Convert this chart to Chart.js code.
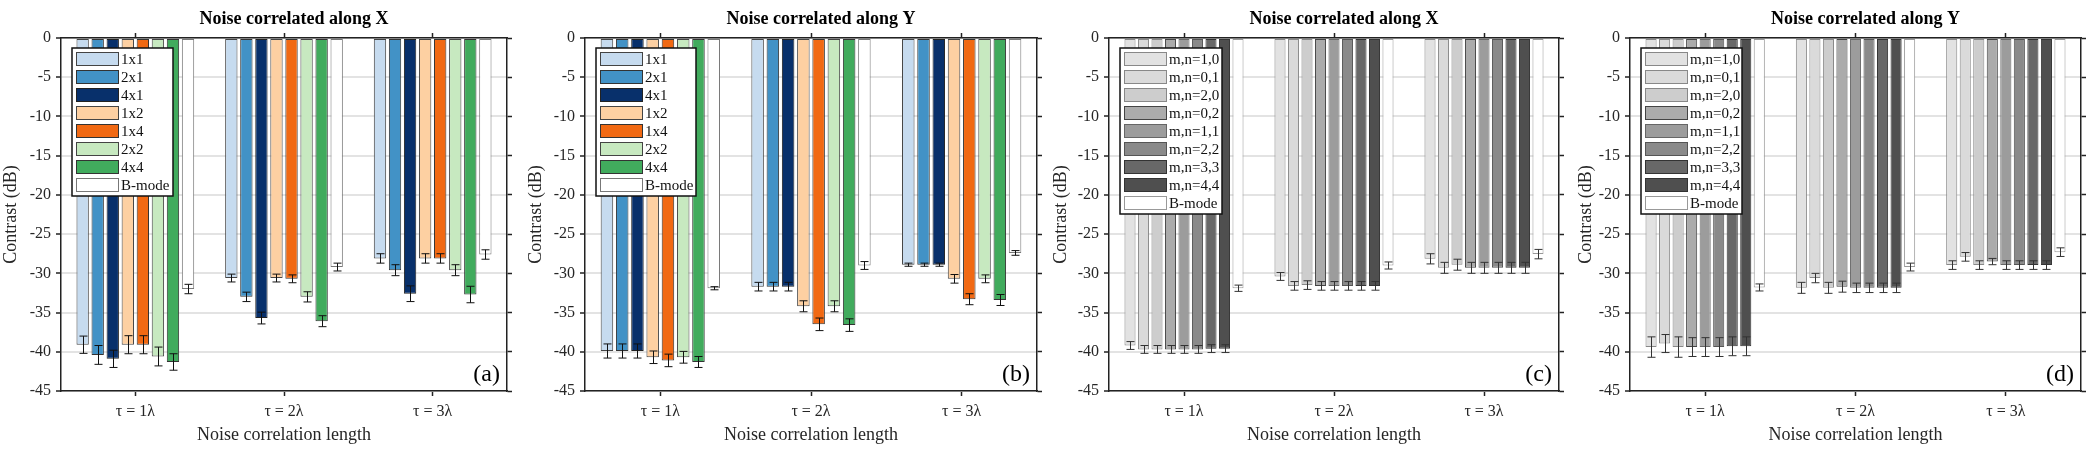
<!DOCTYPE html>
<html>
<head>
<meta charset="utf-8">
<script src="https://cdn.jsdelivr.net/npm/chart.js@4.4.0/dist/chart.umd.min.js"></script>
<style>
  body { margin: 0; background: #fff; width: 2100px; height: 452px; position: relative; overflow: hidden; font-family: "Liberation Serif", serif; }
  canvas { position: absolute; top: 0; }
  #warm { position: absolute; left: -1000px; top: 0; font-family: "Liberation Serif"; }
</style>
</head>
<body>
<span id="warm">Noise <b>correlated</b> τλ</span>
<canvas id="panelA" width="525" height="452" style="left:0px"></canvas>
<canvas id="panelB" width="525" height="452" style="left:525px"></canvas>
<canvas id="panelC" width="525" height="452" style="left:1050px"></canvas>
<canvas id="panelD" width="525" height="452" style="left:1575px"></canvas>
<script>
// categories and series names
const categories = ['τ = 1λ', 'τ = 2λ', 'τ = 3λ'];
const colourSeries = ['1x1', '2x1', '4x1', '1x2', '1x4', '2x2', '4x4', 'B-mode'];
const graySeries = ['m,n=1,0', 'm,n=0,1', 'm,n=2,0', 'm,n=0,2', 'm,n=1,1', 'm,n=2,2', 'm,n=3,3', 'm,n=4,4', 'B-mode'];
const yMin = -45, yMax = 0, yStep = 5;

// (a) noise along X - one row per series, one value per category
const meansA = [
  [-39.1, -30.6, -28.1],
  [-40.4, -33.0, -29.6],
  [-40.9, -35.7, -32.6],
  [-39.1, -30.6, -28.1],
  [-39.1, -30.7, -28.1],
  [-40.6, -33.0, -29.6],
  [-41.3, -36.1, -32.7],
  [-32.0, -29.2, -27.6]
];
const errA = [
  [1.1, 0.5, 0.6],
  [1.2, 0.6, 0.7],
  [1.1, 0.75, 1.0],
  [1.15, 0.5, 0.6],
  [1.15, 0.5, 0.6],
  [1.2, 0.65, 0.7],
  [1.05, 0.7, 1.05],
  [0.6, 0.5, 0.6]
];

// (b) noise along Y
const meansB = [
  [-39.9, -31.7, -28.9],
  [-39.9, -31.7, -28.9],
  [-39.9, -31.7, -28.9],
  [-40.7, -34.2, -30.7],
  [-41.1, -36.5, -33.3],
  [-40.7, -34.2, -30.7],
  [-41.3, -36.6, -33.4],
  [-31.9, -29.0, -27.4]
];
const errB = [
  [0.9, 0.55, 0.2],
  [0.9, 0.55, 0.2],
  [0.9, 0.55, 0.2],
  [0.8, 0.7, 0.55],
  [0.8, 0.8, 0.7],
  [0.75, 0.7, 0.5],
  [0.7, 0.8, 0.7],
  [0.2, 0.5, 0.3]
];

// (c) noise along X, m,n variants
const meansC = [
  [-39.2, -30.4, -28.15],
  [-39.7, -31.6, -29.3],
  [-39.7, -31.5, -28.9],
  [-39.7, -31.6, -29.3],
  [-39.7, -31.6, -29.3],
  [-39.7, -31.6, -29.3],
  [-39.6, -31.6, -29.3],
  [-39.6, -31.6, -29.3],
  [-31.9, -29.0, -27.55]
];
const errC = [
  [0.5, 0.5, 0.65],
  [0.5, 0.55, 0.7],
  [0.5, 0.55, 0.7],
  [0.5, 0.55, 0.7],
  [0.5, 0.55, 0.7],
  [0.5, 0.55, 0.7],
  [0.5, 0.55, 0.7],
  [0.5, 0.55, 0.7],
  [0.4, 0.45, 0.6]
];

// (d) noise along Y, m,n variants
const meansD = [
  [-39.4, -31.85, -28.95],
  [-38.95, -30.6, -27.9],
  [-39.4, -31.85, -28.95],
  [-39.4, -31.7, -28.5],
  [-39.4, -31.85, -28.95],
  [-39.4, -31.85, -28.95],
  [-39.3, -31.85, -28.95],
  [-39.3, -31.85, -28.95],
  [-31.8, -29.2, -27.3]
];
const errD = [
  [1.3, 0.7, 0.55],
  [1.15, 0.6, 0.55],
  [1.3, 0.7, 0.55],
  [1.2, 0.7, 0.4],
  [1.2, 0.6, 0.55],
  [1.2, 0.6, 0.55],
  [1.2, 0.6, 0.55],
  [1.2, 0.6, 0.55],
  [0.45, 0.5, 0.55]
];

const colourFills = ['#c6dbef', '#4292c6', '#08306b', '#fdd0a2', '#f16913', '#c7e9c0', '#41ab5d', '#ffffff'];
const colourEdges = ['#444', '#333', '#222', '#444', '#333', '#444', '#333', '#777'];
const grayFills = ['#e2e2e2', '#dadada', '#cdcdcd', '#ababab', '#9c9c9c', '#8a8a8a', '#686868', '#4f4f4f', '#ffffff'];
const grayEdges = ['#888', '#888', '#888', '#444', '#666', '#555', '#333', '#333', '#999'];

const serif = '"Liberation Serif", "Times New Roman", serif';
Chart.defaults.font.family = serif;

// error bars on top of each bar
const errorBars = {
  id: 'errorBars',
  afterDatasetsDraw(chart, args, opts) {
    const ctx = chart.ctx;
    const ys = chart.scales.y;
    ctx.save();
    ctx.strokeStyle = opts.color;
    ctx.lineWidth = 1;
    chart.data.datasets.forEach((ds, di) => {
      chart.getDatasetMeta(di).data.forEach((bar, i) => {
        const m = ds.data[i], e = ds.errors[i];
        const x = Math.round(bar.x) + 0.5;
        const y1 = ys.getPixelForValue(m + e);
        const y2 = ys.getPixelForValue(m - e);
        ctx.beginPath();
        ctx.moveTo(x, y1); ctx.lineTo(x, y2);
        ctx.moveTo(x - 4, y1); ctx.lineTo(x + 4, y1);
        ctx.moveTo(x - 4, y2); ctx.lineTo(x + 4, y2);
        ctx.stroke();
      });
    });
    ctx.restore();
  }
};

// boxed legend in the upper left corner of the plot
const boxLegend = {
  id: 'boxLegend',
  afterDraw(chart, args, opts) {
    const ctx = chart.ctx, area = chart.chartArea;
    const sets = chart.data.datasets;
    const x0 = area.left + opts.dx, y0 = area.top + opts.dy;
    const h = sets.length * opts.rowH + 4;
    ctx.save();
    ctx.fillStyle = '#fff';
    ctx.fillRect(x0, y0, opts.width, h);
    ctx.strokeStyle = '#111';
    ctx.lineWidth = 1.5;
    ctx.strokeRect(x0, y0, opts.width, h);
    ctx.font = '15px ' + serif;
    ctx.textBaseline = 'middle';
    sets.forEach((ds, i) => {
      const cy = y0 + 2 + opts.rowH * (i + 0.5);
      ctx.fillStyle = ds.backgroundColor;
      ctx.fillRect(x0 + 4.5, cy - 6.5, 42, 13);
      ctx.strokeStyle = ds.borderColor;
      ctx.lineWidth = 1;
      ctx.strokeRect(x0 + 4.5, cy - 6.5, 42, 13);
      ctx.fillStyle = '#111';
      ctx.fillText(ds.label, x0 + 49, cy + 1);
    });
    ctx.restore();
  }
};

// title above the plot and the (a)..(d) tag
const decor = {
  id: 'decor',
  afterDraw(chart, args, opts) {
    const ctx = chart.ctx, area = chart.chartArea;
    ctx.save();
    ctx.fillStyle = '#000';
    ctx.font = 'bold 18px ' + serif;
    ctx.textAlign = 'center';
    ctx.textBaseline = 'middle';
    ctx.fillText(opts.title, (area.left + area.right) / 2 + 10, 19);
    ctx.font = '24px ' + serif;
    ctx.textAlign = 'right';
    ctx.textBaseline = 'alphabetic';
    ctx.fillText(opts.tag, area.right - 7, area.bottom - 10);
    ctx.restore();
  }
};

const panels = [
  { id: 'panelA', title: 'Noise correlated along X', tag: '(a)', names: colourSeries, means: meansA, errs: errA, fills: colourFills, edges: colourEdges, L: 61, R: 18, legendW: 101, errColor: '#111' },
  { id: 'panelB', title: 'Noise correlated along Y', tag: '(b)', names: colourSeries, means: meansB, errs: errB, fills: colourFills, edges: colourEdges, L: 60, R: 13, legendW: 100, errColor: '#111' },
  { id: 'panelC', title: 'Noise correlated along X', tag: '(c)', names: graySeries, means: meansC, errs: errC, fills: grayFills, edges: grayEdges, L: 59, R: 16, legendW: 102, errColor: '#333' },
  { id: 'panelD', title: 'Noise correlated along Y', tag: '(d)', names: graySeries, means: meansD, errs: errD, fills: grayFills, edges: grayEdges, L: 55, R: 19, legendW: 101, errColor: '#333' }
];

const axisDark = '#222';
const tickText = '#262626';

function drawPanels() {
  panels.forEach(p => {
    const datasets = p.names.map((name, k) => ({
      label: name,
      data: p.means[k],
      errors: p.errs[k],
      backgroundColor: p.fills[k],
      borderColor: p.edges[k],
      borderWidth: 1,
      borderSkipped: false,
      categoryPercentage: 0.81,
      barPercentage: 0.82
    }));

    new Chart(document.getElementById(p.id), {
      type: 'bar',
      data: { labels: categories, datasets: datasets },
      plugins: [errorBars, boxLegend, decor],
      options: {
        responsive: false,
        animation: false,
        devicePixelRatio: 1,
        layout: { padding: 0 },
        plugins: {
          legend: { display: false },
          tooltip: { enabled: false },
          title: { display: false },
          errorBars: { color: p.errColor },
          boxLegend: { dx: 11, dy: 10, rowH: 18, width: p.legendW },
          decor: { title: p.title, tag: p.tag }
        },
        scales: {
          x: {
            position: 'bottom',
            offset: true,
            grid: { drawOnChartArea: false, offset: false, tickLength: 5, tickColor: axisDark, tickWidth: 1.5 },
            border: { color: axisDark, width: 1.5 },
            ticks: { color: tickText, font: { family: serif, size: 16 }, padding: 6, maxRotation: 0 },
            title: { display: true, text: 'Noise correlation length', color: tickText, font: { family: serif, size: 18 }, padding: { top: 0, bottom: 6 } },
            afterFit(s) { s.height = 61; }
          },
          x2: {
            type: 'category',
            position: 'top',
            offset: true,
            grid: { drawOnChartArea: false, offset: false, tickLength: 5, tickColor: axisDark, tickWidth: 1.5 },
            border: { color: axisDark, width: 1.5 },
            ticks: { display: false },
            afterFit(s) { s.height = 38; }
          },
          y: {
            position: 'left',
            min: yMin,
            max: yMax,
            grid: { color: '#e3e3e3', lineWidth: 2, tickLength: 5, tickColor: axisDark, tickWidth: 1.5 },
            border: { color: axisDark, width: 1.5 },
            ticks: { stepSize: yStep, color: tickText, font: { family: serif, size: 16 }, padding: 5 },
            title: { display: true, text: 'Contrast (dB)', color: tickText, font: { family: serif, size: 18 }, padding: { top: 0, bottom: 4 } },
            afterFit(s) { s.width = p.L; }
          },
          y2: {
            position: 'right',
            min: yMin,
            max: yMax,
            grid: { drawOnChartArea: false, tickLength: 5, tickColor: axisDark, tickWidth: 1.5 },
            border: { color: axisDark, width: 1.5 },
            ticks: { stepSize: yStep, display: false },
            afterFit(s) { s.width = p.R; }
          }
        }
      }
    });
  });
}

Promise.all([
  document.fonts.load('16px "Liberation Serif"'),
  document.fonts.load('bold 18px "Liberation Serif"')
]).then(drawPanels, drawPanels);
</script>
</body>
</html>
